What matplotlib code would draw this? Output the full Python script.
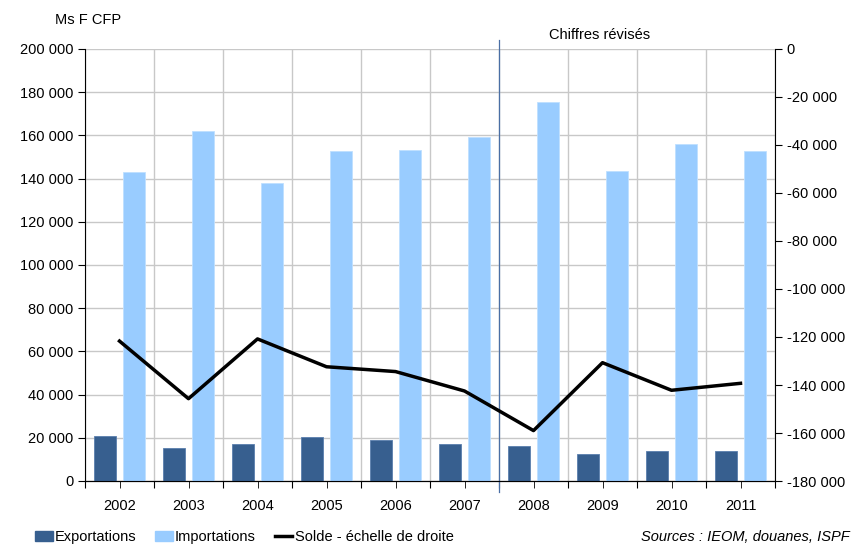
import matplotlib.pyplot as plt
import numpy as np
from matplotlib.lines import Line2D
from matplotlib.patches import Patch

plt.rcParams['font.family'] = ['Liberation Sans Narrow', 'Liberation Sans', 'DejaVu Sans']

# data (Ms F CFP)
years = ['2002', '2003', '2004', '2005', '2006', '2007', '2008', '2009', '2010', '2011']
exportations = [21000, 15500, 17300, 20500, 18800, 17000, 16200, 12600, 13900, 13900]
importations = [142900, 161900, 138100, 153000, 153200, 159300, 175600, 143300, 156000, 153000]
solde = [-121700, -145700, -120800, -132400, -134400, -142500, -159000, -130700, -142200, -139300]

dark = '#375f8f'
light = '#99ccff'

fig = plt.figure(figsize=(8.57, 5.47), dpi=100)
ax = fig.add_axes([85/857, 1 - 481/547, 690/857, 432/547])
x = np.arange(len(years))

ax.bar(x - 0.21, exportations, width=0.33, color=dark, edgecolor='#5a7fae', linewidth=0.6, zorder=3)
ax.bar(x + 0.21, importations, width=0.33, color=light, edgecolor='#bfe0ff', linewidth=0.6, zorder=3)

ax.set_xlim(-0.5, len(years) - 0.5)
ax.set_ylim(0, 200000)
ax.set_yticks(np.arange(0, 200001, 20000))
ax.set_yticklabels(['{:,}'.format(v).replace(',', ' ') for v in range(0, 200001, 20000)], fontsize=10.5)

# boundaries = gridlines, centers = labels
ax.set_xticks(np.arange(-0.5, len(years), 1.0))
ax.set_xticklabels([])
ax.set_xticks(x, minor=True)
ax.set_xticklabels(years, minor=True, fontsize=10.5)
ax.tick_params(axis='x', which='both', length=5, direction='out', pad=8)
ax.tick_params(axis='y', length=5, direction='out')
ax.grid(True, which='major', color='#c8c8c8', linewidth=1.0, zorder=0)
ax.set_axisbelow(True)
ax.spines['top'].set_visible(False)
ax.spines['right'].set_visible(False)

ax2 = ax.twinx()
ax2.plot(x, solde, color='black', linewidth=2.5, zorder=5)
ax2.set_ylim(-180000, 0)
ax2.set_yticks(np.arange(-180000, 1, 20000))
ax2.set_yticklabels(['{:,}'.format(v).replace(',', ' ') for v in range(-180000, 1, 20000)], fontsize=10.5)
ax2.tick_params(axis='y', length=5, direction='out')
ax2.spines['top'].set_visible(False)
ax2.spines['left'].set_visible(False)

# separator for revised figures
ax.plot([5.5, 5.5], [-5000, 204000], color='#4a6fa5', linewidth=0.9, clip_on=False, zorder=6)

fig.text(55/857, 1 - 20/547, 'Ms F CFP', fontsize=10.5, va='center')
fig.text(600/857, 1 - 35/547, 'Chiffres révisés', fontsize=10.5, va='center', ha='center')

handles = [Patch(color=dark), Patch(color=light), Line2D([], [], color='black', linewidth=2.5)]
labels = ['Exportations', 'Importations', 'Solde - échelle de droite']
fig.legend(handles, labels, loc='center left', bbox_to_anchor=(22/857, 1 - 537/547), ncol=3,
           frameon=False, fontsize=10.5, handlelength=1.2, handletextpad=0.15, columnspacing=1.3)
fig.text(850/857, 1 - 537/547, 'Sources : IEOM, douanes, ISPF', fontsize=10.5, style='italic',
         ha='right', va='center')

fig.savefig('out.png', dpi=100)
